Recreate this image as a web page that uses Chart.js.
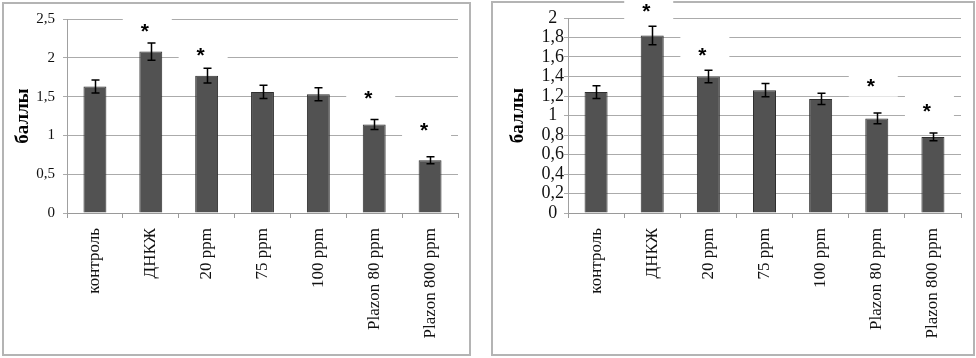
<!DOCTYPE html>
<html>
<head>
<meta charset="utf-8">
<script src="https://cdn.jsdelivr.net/npm/chart.js@4.4.1/dist/chart.umd.min.js"></script>
<style>
  html, body { margin: 0; padding: 0; background: #ffffff; }
  body { width: 976px; height: 358px; position: relative; overflow: hidden; }
  #c1 { position: absolute; left: 2px; top: 2px; }
  #c2 { position: absolute; left: 491px; top: 1px; }
</style>
</head>
<body>
<canvas id="c1" width="469" height="354"></canvas>
<canvas id="c2" width="484" height="355"></canvas>
<script>
// ---- data ----
const categories = ['контроль', 'ДНКЖ', '20 ppm', '75 ppm', '100 ppm', 'Plazon 80 ppm', 'Plazon 800 ppm'];

const leftValues    = [1.63, 2.08, 1.77, 1.56, 1.53, 1.14, 0.68];
const leftErrors    = [0.085, 0.11, 0.095, 0.085, 0.085, 0.065, 0.045];
const leftAsterisks = [null, 2.41, 2.10, null, null, 1.54, 1.13];
const leftTickLabels = ['0', '0,5', '1', '1,5', '2', '2,5'];

const rightValues    = [1.24, 1.82, 1.40, 1.26, 1.17, 0.97, 0.78];
const rightErrors    = [0.065, 0.095, 0.065, 0.068, 0.058, 0.055, 0.04];
const rightAsterisks = [null, 2.125, 1.675, null, null, 1.357, 1.10];
const rightTickLabels = ['0', '0,2', '0,4', '0,6', '0,8', '1', '1,2', '1,4', '1,6', '1,8', '2'];

const yTitle = 'баллы';
const markText = '*';

// ---- plugins ----
const frame = {
  id: 'frame',
  beforeDraw(chart) {
    const ctx = chart.ctx;
    ctx.save();
    ctx.fillStyle = '#ffffff';
    ctx.fillRect(0, 0, chart.width, chart.height);
    ctx.strokeStyle = '#b4b4b4';
    ctx.lineWidth = 2;
    ctx.strokeRect(1, 1, chart.width - 2, chart.height - 2);
    ctx.restore();
  }
};

const errorBars = {
  id: 'errorBars',
  afterDatasetsDraw(chart, args, opts) {
    const ctx = chart.ctx;
    const y = chart.scales.y;
    const meta = chart.getDatasetMeta(0);
    const vals = chart.data.datasets[0].data;
    const errs = opts.errors;
    ctx.save();
    ctx.strokeStyle = '#000000';
    ctx.lineWidth = 1.5;
    meta.data.forEach((bar, i) => {
      const x = Math.round(bar.x) + 0.5;
      const yt = y.getPixelForValue(vals[i] + errs[i]);
      const yb = y.getPixelForValue(vals[i] - errs[i]);
      ctx.beginPath();
      ctx.moveTo(x, yt); ctx.lineTo(x, yb);
      ctx.moveTo(x - 4, yt); ctx.lineTo(x + 4, yt);
      ctx.moveTo(x - 4, yb); ctx.lineTo(x + 4, yb);
      ctx.stroke();
    });
    ctx.restore();
  },
  afterDraw(chart, args, opts) {
    const ctx = chart.ctx;
    const y = chart.scales.y;
    const meta = chart.getDatasetMeta(0);
    const marks = opts.marks;
    ctx.save();
    meta.data.forEach((bar, i) => {
      if (marks[i] == null) return;
      const cx = bar.x;
      const cy = y.getPixelForValue(marks[i]);
      ctx.fillStyle = '#ffffff';
      ctx.fillRect(cx - 26 + opts.boxShift, cy - 15, 49, 31);
      ctx.fillStyle = '#000000';
      ctx.font = 'bold 21px "Liberation Sans", Arial, sans-serif';
      ctx.textAlign = 'center';
      ctx.textBaseline = 'alphabetic';
      ctx.fillText(markText, cx + opts.markShift, cy + 12);
    });
    ctx.restore();
  }
};

function makeChart(id, values, errors, marks, tickLabels, max, step, cfg) {
  return new Chart(document.getElementById(id), {
    type: 'bar',
    data: {
      labels: categories,
      datasets: [{
        data: values,
        backgroundColor: '#525252',
        borderColor: '#2f2f2f',
        borderWidth: 1,
        barPercentage: 0.41,
        categoryPercentage: 1.0
      }]
    },
    options: {
      responsive: false,
      animation: false,
      devicePixelRatio: 1,
      layout: { padding: { left: 0, right: cfg.padRight, top: cfg.padTop, bottom: 0 } },
      plugins: {
        legend: { display: false },
        tooltip: { enabled: false },
        errorBars: { errors: errors, marks: marks, boxShift: cfg.boxShift, markShift: cfg.markShift }
      },
      scales: {
        x: {
          offset: true,
          grid: { display: true, drawOnChartArea: false, drawTicks: true, tickLength: 5, color: '#9a9a9a', offset: true },
          border: { display: true, color: '#9a9a9a' },
          ticks: {
            autoSkip: false, maxRotation: 90, minRotation: 90, padding: 10,
            color: '#111111',
            font: { family: '"Liberation Serif", "Times New Roman", serif', size: 17 }
          },
          afterFit(scale) { scale.height = cfg.xHeight; }
        },
        y: {
          min: 0, max: max,
          ticks: {
            stepSize: step, padding: cfg.tickPad, crossAlign: cfg.crossAlign,
            autoSkip: false,
            color: '#111111',
            font: { family: '"Liberation Serif", "Times New Roman", serif', size: cfg.tickSize },
            callback: (v, i) => tickLabels[i]
          },
          grid: { color: '#ababab', tickLength: cfg.tickLen, drawTicks: true },
          border: { display: true, color: '#a0a0a0' },
          title: {
            display: true, text: yTitle, color: '#000000',
            font: { family: '"Liberation Serif", "Times New Roman", serif', size: 19, weight: 'bold' },
            padding: { top: cfg.titlePad, bottom: 0 }
          },
          afterFit(scale) { scale.width = cfg.yWidth; }
        }
      }
    },
    plugins: [frame, errorBars]
  });
}

makeChart('c1', leftValues, leftErrors, leftAsterisks, leftTickLabels, 2.5, 0.5, {
  padRight: 13, padTop: 16, xHeight: 143, yWidth: 65, tickPad: 8, tickLen: 4,
  crossAlign: 'near', tickSize: 15, titlePad: 10, boxShift: -2, markShift: -6
});
makeChart('c2', rightValues, rightErrors, rightAsterisks, rightTickLabels, 2, 0.2, {
  padRight: 14, padTop: 17, xHeight: 143, yWidth: 77, tickPad: 0, tickLen: 4,
  crossAlign: 'center', tickSize: 18, titlePad: 16, boxShift: -2, markShift: -6
});
</script>
</body>
</html>
